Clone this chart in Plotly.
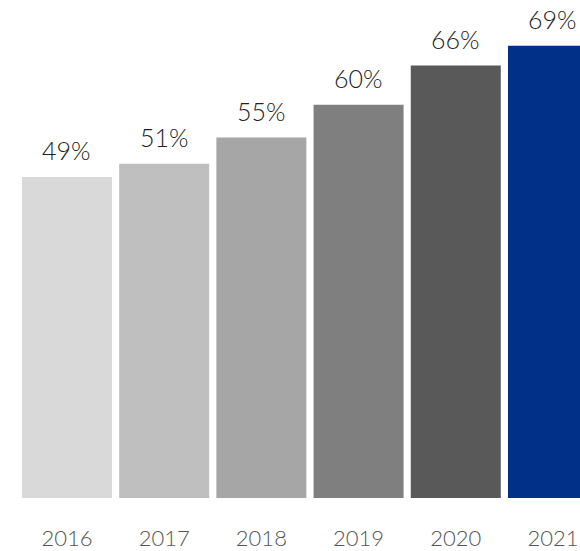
import plotly.graph_objects as go

years = ["2016", "2017", "2018", "2019", "2020", "2021"]
values = [49, 51, 55, 60, 66, 69]
labels = ["49%", "51%", "55%", "60%", "66%", "69%"]
colors = ["#d9d9d9", "#bfbfbf", "#a6a6a6", "#7f7f7f", "#595959", "#003087"]

FONT = "Lato"

fig = go.Figure()
fig.add_trace(go.Bar(
    x=years, y=values,
    marker=dict(color=colors, line=dict(width=0)),
    hoverinfo="skip",
))

for i, (v, lab) in enumerate(zip(values, labels)):
    fig.add_annotation(
        x=i, y=v, xref="x", yref="y", text=lab, showarrow=False,
        yanchor="bottom", yshift=10,
        font=dict(family=FONT, size=25, color="#222222", weight=300),
    )

fig.update_layout(
    width=580, height=551,
    margin=dict(l=0, r=0, t=0, b=43),
    paper_bgcolor="white", plot_bgcolor="white",
    bargap=0.074,
    showlegend=False,
    xaxis=dict(
        type="category",
        range=[-0.689, 5.278],
        showgrid=False, zeroline=False, showline=False,
        ticks="", ticklabelstandoff=25,
        tickfont=dict(family=FONT, size=22, color="#555555", weight=300),
    ),
    yaxis=dict(
        range=[0, 76.0],
        visible=False,
    ),
)

fig.write_html("out.html")
